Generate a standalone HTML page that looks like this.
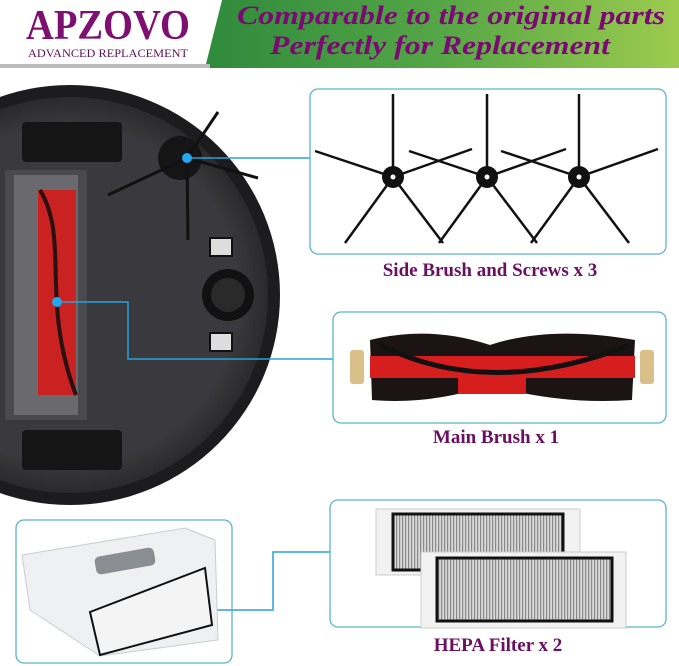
<!DOCTYPE html>
<html><head><meta charset="utf-8"><style>
html,body{margin:0;padding:0;background:#fff;}
svg{display:block}
</style></head><body>
<svg width="679" height="666" viewBox="0 0 679 666" xmlns="http://www.w3.org/2000/svg">
<defs>
<linearGradient id="g" x1="0" x2="1" y1="0" y2="0">
<stop offset="0" stop-color="#2f8a3c"/><stop offset="0.5" stop-color="#55a646"/><stop offset="1" stop-color="#9ccb4e"/>
</linearGradient>
<radialGradient id="rb" cx="0.5" cy="0.5" r="0.5">
<stop offset="0.85" stop-color="#3a3a3e"/><stop offset="1" stop-color="#2a2a2c"/>
</radialGradient>
<pattern id="st" width="3" height="10" patternUnits="userSpaceOnUse">
<rect width="3" height="10" fill="#d8d8d8"/><rect width="1.2" height="10" fill="#8a8a8a"/>
</pattern>
</defs>
<!-- header -->
<rect x="0" y="0" width="679" height="70" fill="#fff"/>
<polygon points="222,0 679,0 679,68 205,68" fill="url(#g)"/>
<polygon points="0,0 222,0 205,66 0,66" fill="#fff"/>
<rect x="0" y="64" width="210" height="4" fill="#bbb"/>
<text x="108" y="39" text-anchor="middle" font-family="Liberation Serif,serif" font-weight="bold" font-size="42" fill="#7d1070" textLength="164" lengthAdjust="spacingAndGlyphs">APZOVO</text>
<text x="108" y="57" text-anchor="middle" font-family="Liberation Serif,serif" font-size="12" fill="#5a1058" textLength="160" lengthAdjust="spacingAndGlyphs">ADVANCED REPLACEMENT</text>
<text x="451" y="24" text-anchor="middle" font-family="Liberation Serif,serif" font-style="italic" font-weight="bold" font-size="26" fill="#7a0a72" textLength="428" lengthAdjust="spacingAndGlyphs">Comparable to the original parts</text>
<text x="440" y="54" text-anchor="middle" font-family="Liberation Serif,serif" font-style="italic" font-weight="bold" font-size="26" fill="#7a0a72" textLength="340" lengthAdjust="spacingAndGlyphs">Perfectly for Replacement</text>

<!-- robot -->
<circle cx="70" cy="295" r="210" fill="#1c1c1e"/>
<circle cx="70" cy="295" r="198" fill="url(#rb)"/>
<rect x="22" y="122" width="100" height="40" rx="4" fill="#151515"/>
<rect x="22" y="430" width="100" height="40" rx="4" fill="#151515"/>
<rect x="5" y="170" width="82" height="250" fill="#4a4a4e"/>
<rect x="14" y="175" width="64" height="240" fill="#6a6a6e"/>
<rect x="38" y="190" width="38" height="205" fill="#c92220"/>
<path d="M40,190 C70,240 40,300 76,395" stroke="#2a1010" stroke-width="4" fill="none"/>
<circle cx="180" cy="158" r="22" fill="#151515"/>
<line x1="187" y1="158" x2="218" y2="112" stroke="#111" stroke-width="3"/>
<line x1="187" y1="158" x2="258" y2="178" stroke="#111" stroke-width="3"/>
<line x1="187" y1="158" x2="108" y2="195" stroke="#111" stroke-width="3"/>
<line x1="187" y1="158" x2="188" y2="240" stroke="#111" stroke-width="3"/>
<rect x="210" y="238" width="22" height="18" fill="#ddd" stroke="#111" stroke-width="2"/>
<rect x="210" y="333" width="22" height="18" fill="#ddd" stroke="#111" stroke-width="2"/>
<circle cx="228" cy="295" r="26" fill="#111"/>
<circle cx="228" cy="295" r="17" fill="#2a2a2a"/>

<!-- connectors -->
<g stroke="#2aa0d8" stroke-width="1.5" fill="none">
<line x1="187" y1="158" x2="310" y2="158"/>
<polyline points="57,302 128,302 128,359 333,359"/>
<polyline points="160,610 273,610 273,552 330,552"/>
</g>
<circle cx="187" cy="158" r="5" fill="#22a8f0"/>
<circle cx="57" cy="302" r="5" fill="#22a8f0"/>
<circle cx="160" cy="610" r="5" fill="#22a8f0"/>

<!-- boxes -->
<g fill="none" stroke="#5ab3c8" stroke-width="1.3">
<rect x="310" y="89" width="356" height="165" rx="8"/>
<rect x="333" y="312" width="333" height="111" rx="8"/>
<rect x="16" y="520" width="216" height="143" rx="8"/>
<rect x="330" y="500" width="336" height="127" rx="8"/>
</g>

<!-- side brushes -->
<g stroke="#111" stroke-width="2.5">
<g transform="translate(393,177)"><line x1="0" y1="0" x2="0" y2="-83"/><line x1="0" y1="0" x2="-78" y2="-26"/><line x1="0" y1="0" x2="79" y2="-28"/><line x1="0" y1="0" x2="-48" y2="66"/><line x1="0" y1="0" x2="50" y2="66"/></g>
<g transform="translate(487,177)"><line x1="0" y1="0" x2="0" y2="-83"/><line x1="0" y1="0" x2="-78" y2="-26"/><line x1="0" y1="0" x2="79" y2="-28"/><line x1="0" y1="0" x2="-48" y2="66"/><line x1="0" y1="0" x2="50" y2="66"/></g>
<g transform="translate(579,177)"><line x1="0" y1="0" x2="0" y2="-83"/><line x1="0" y1="0" x2="-78" y2="-26"/><line x1="0" y1="0" x2="79" y2="-28"/><line x1="0" y1="0" x2="-48" y2="66"/><line x1="0" y1="0" x2="50" y2="66"/></g>
</g>
<circle cx="393" cy="177" r="11" fill="#111"/><circle cx="393" cy="177" r="2.5" fill="#fff"/>
<circle cx="487" cy="177" r="11" fill="#111"/><circle cx="487" cy="177" r="2.5" fill="#fff"/>
<circle cx="579" cy="177" r="11" fill="#111"/><circle cx="579" cy="177" r="2.5" fill="#fff"/>
<text x="490" y="276" text-anchor="middle" font-family="Liberation Serif,serif" font-weight="bold" font-size="19" fill="#6a0f62">Side Brush and Screws x 3</text>

<!-- main brush -->
<path d="M370,340 Q430,325 490,345 Q550,325 635,340 L632,400 Q560,405 490,385 Q430,405 372,400 Z" fill="#1c1414"/>
<rect x="370" y="356" width="265" height="22" fill="#d61e1e"/>
<rect x="458" y="368" width="68" height="26" fill="#d61e1e"/>
<path d="M380,345 Q490,400 630,345" stroke="#111" stroke-width="5" fill="none"/>
<rect x="350" y="350" width="14" height="34" rx="3" fill="#d8c088"/>
<rect x="640" y="350" width="14" height="34" rx="3" fill="#d8c088"/>
<text x="496" y="443" text-anchor="middle" font-family="Liberation Serif,serif" font-weight="bold" font-size="19" fill="#6a0f62">Main Brush x 1</text>

<!-- dustbin -->
<path d="M22,555 L185,528 L215,540 L218,640 L100,656 L30,610 Z" fill="#eef0f2" stroke="#c8cdd2"/>
<rect x="95" y="552" width="60" height="18" rx="5" fill="#8a8e92" transform="rotate(-10 125 561)"/>
<path d="M90,612 L205,568 L212,625 L100,655 Z" fill="#f4f4f4" stroke="#111" stroke-width="2"/>

<!-- hepa filters -->
<rect x="376" y="509" width="204" height="66" fill="#f2f2f2" stroke="#ccc"/>
<rect x="393" y="514" width="170" height="56" fill="url(#st)" stroke="#111" stroke-width="3"/>
<rect x="421" y="552" width="205" height="76" fill="#f2f2f2" stroke="#ccc"/>
<rect x="437" y="558" width="175" height="63" fill="url(#st)" stroke="#111" stroke-width="3"/>
<text x="498" y="651" text-anchor="middle" font-family="Liberation Serif,serif" font-weight="bold" font-size="19" fill="#6a0f62">HEPA Filter x 2</text>
</svg>
</body></html>
